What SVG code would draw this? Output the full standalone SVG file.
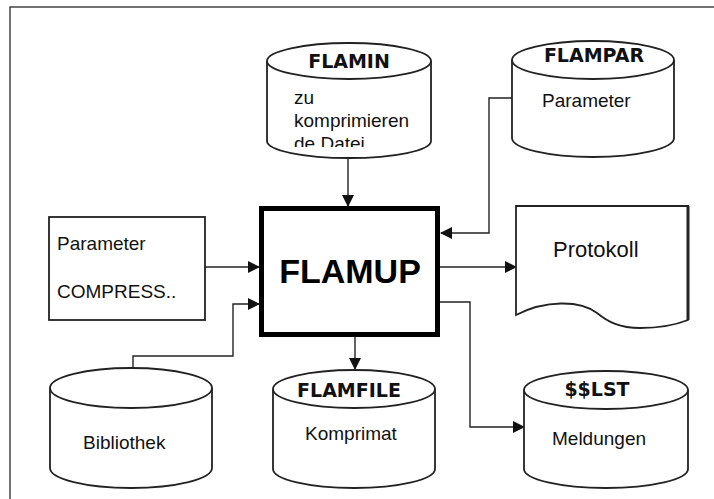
<svg xmlns="http://www.w3.org/2000/svg" width="714" height="499" viewBox="0 0 714 499">
<style>
.shape{fill:#fff;stroke:#222;stroke-width:1.8}
.conn{fill:none;stroke:#222;stroke-width:1.4}
.t{font-family:"Liberation Sans",Arial,sans-serif;font-size:19px;fill:#111}
.tb{font-family:"DejaVu Sans",sans-serif;font-weight:bold;font-size:19px;fill:#111;text-anchor:middle}
</style>
<defs>
<marker id="arr" markerUnits="userSpaceOnUse" markerWidth="12" markerHeight="12" refX="11" refY="6" orient="auto">
<path d="M0,0 L12,6 L0,12 Z" fill="#111"/>
</marker>
<clipPath id="clipIn"><rect x="260" y="40" width="180" height="107"/></clipPath>
</defs>
<rect width="714" height="499" fill="#fff"/>
<rect x="10" y="7" width="720" height="520" fill="none" stroke="#444" stroke-width="1.5"/>

<g id="connectors">
<path class="conn" d="M348,158 L348,206" marker-end="url(#arr)"/>
<path class="conn" d="M512,98 L489,98 L489,233 L441,233" marker-end="url(#arr)"/>
<path class="conn" d="M205,267 L259,267" marker-end="url(#arr)"/>
<path class="conn" d="M133,368 L133,356 L233,356 L233,304 L259,304" marker-end="url(#arr)"/>
<path class="conn" d="M440,267 L516,267" marker-end="url(#arr)"/>
<path class="conn" d="M355,337 L355,369" marker-end="url(#arr)"/>
<path class="conn" d="M440,302 L470,302 L470,427 L524,427" marker-end="url(#arr)"/>
</g>

<g id="flamin">
<path class="shape" d="M267,61 A82,18 0 0 1 431,61 L431,141 A82,17 0 0 1 267,141 Z"/>
<path class="shape" d="M267,61 A82,18 0 0 0 431,61" fill="none"/>
<text class="tb" x="349" y="68">FLAMIN</text>
<g clip-path="url(#clipIn)">
<text class="t" x="294" y="104">zu</text>
<text class="t" x="294" y="127">komprimieren</text>
<text class="t" x="294" y="150">de Datei</text>
</g>
</g>

<g id="flampar">
<path class="shape" d="M512,60 A81,19 0 0 1 674,60 L674,138 A81,19 0 0 1 512,138 Z"/>
<path class="shape" d="M512,60 A81,19 0 0 0 674,60" fill="none"/>
<text class="tb" x="594" y="62">FLAMPAR</text>
<text class="t" x="542" y="107">Parameter</text>
</g>

<g id="params">
<rect class="shape" x="49" y="217" width="156" height="103" stroke="#333" stroke-width="2.2"/>
<text class="t" x="57" y="250">Parameter</text>
<text class="t" x="57" y="298">COMPRESS..</text>
</g>

<g id="flamup">
<rect x="261.5" y="208.5" width="176" height="126" fill="#fff" stroke="#000" stroke-width="5"/>
<text x="350" y="283" font-family="'Liberation Sans',Arial,sans-serif" font-weight="bold" font-size="34" text-anchor="middle" fill="#000">FLAMUP</text>
</g>

<g id="protokoll">
<path class="shape" d="M516,206 L688,206 L688,320 C678,324 660,328 640,328 C620,328 608,322 597,313 C580,300 545,300 516,315 Z"/>
<line x1="688" y1="206" x2="688" y2="320" stroke="#222" stroke-width="3"/>
<text class="t" x="553" y="257" style="font-size:22px">Protokoll</text>
</g>

<g id="bibliothek">
<path class="shape" d="M50,388 A81,20 0 0 1 212,388 L212,468 A81,20 0 0 1 50,468 Z"/>
<path class="shape" d="M50,388 A81,20 0 0 0 212,388" fill="none"/>
<text class="t" x="83" y="449">Bibliothek</text>
</g>

<g id="flamfile">
<path class="shape" d="M273,389 A81,19 0 0 1 435,389 L435,469 A81,19 0 0 1 273,469 Z"/>
<path class="shape" d="M273,389 A81,19 0 0 0 435,389" fill="none"/>
<text class="tb" x="349" y="397">FLAMFILE</text>
<text class="t" x="305" y="440">Komprimat</text>
</g>

<g id="sslst">
<path class="shape" d="M524,390 A82,19 0 0 1 688,390 L688,469 A82,19 0 0 1 524,469 Z"/>
<path class="shape" d="M524,390 A82,19 0 0 0 688,390" fill="none"/>
<text class="tb" x="597" y="396">$$LST</text>
<text class="t" x="552" y="445">Meldungen</text>
</g>
</svg>
